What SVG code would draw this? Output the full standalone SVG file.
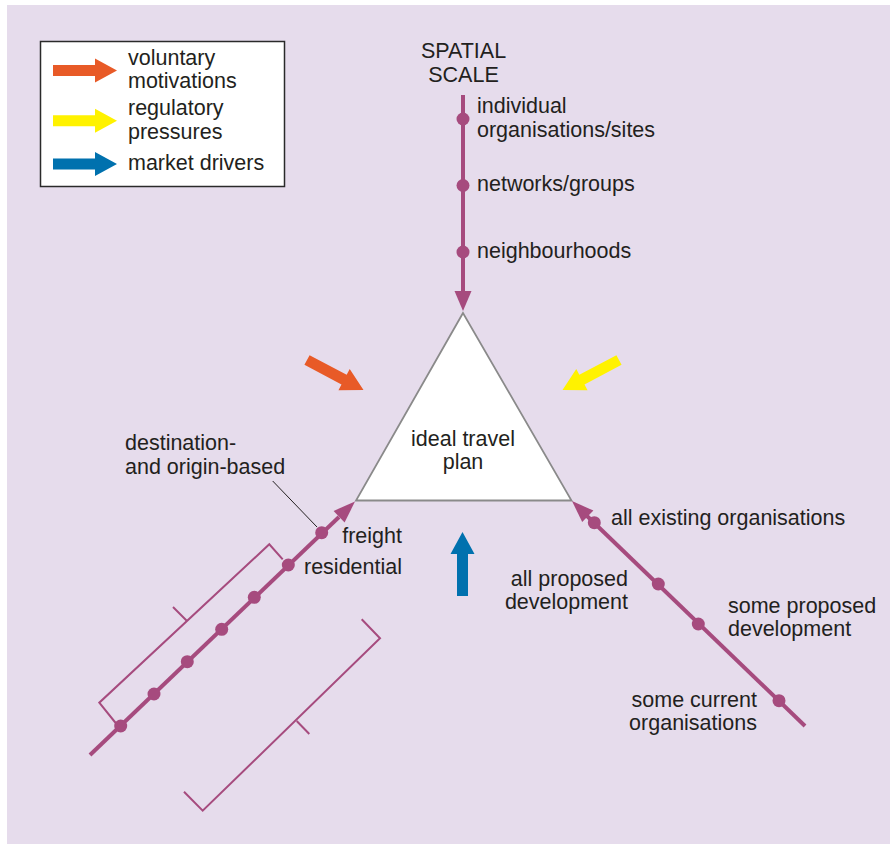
<svg xmlns="http://www.w3.org/2000/svg" xmlns:xlink="http://www.w3.org/1999/xlink" width="890" height="844" viewBox="0 0 890 844">
<style>
text{font-family:"Liberation Sans",Arial,sans-serif;font-size:21.5px;fill:#231f20}
.leg{font-size:21.5px}
.ax{stroke:#a64b7e;stroke-width:4;fill:none}
.br{stroke:#a64b7e;stroke-width:2;fill:none}
.hd{fill:#a64b7e}
.dot{fill:#a64b7e}
.mid{text-anchor:middle}
.end{text-anchor:end}
</style>
<defs>
<path id="bigarrow" d="M0,-5.5 H42 V-12 L64,0 L42,12 V5.5 H0 Z"/>
</defs>
<rect x="0" y="0" width="890" height="844" fill="#ffffff"/>
<rect x="7" y="5" width="883" height="839" fill="#e6dcec"/>

<g id="legend">
<rect x="40.5" y="41.5" width="244" height="145" fill="#ffffff" stroke="#2a2a2a" stroke-width="1.5"/>
<use xlink:href="#bigarrow" transform="translate(53,70.5)" fill="#e85a27"/>
<use xlink:href="#bigarrow" transform="translate(53,120.7)" fill="#fff200"/>
<use xlink:href="#bigarrow" transform="translate(53,164)" fill="#0071ae"/>
<text class="leg" x="128" y="64.5">voluntary</text>
<text class="leg" x="128" y="88">motivations</text>
<text class="leg" x="128" y="114.5">regulatory</text>
<text class="leg" x="128" y="138.5">pressures</text>
<text class="leg" x="128" y="170">market drivers</text>
</g>

<g id="triangle">
<polygon points="463,313 356,500.5 571.5,500.5" fill="#ffffff" stroke="#8a8a8a" stroke-width="1.8"/>
<text class="mid" x="463" y="446">ideal travel</text>
<text class="mid" x="463" y="469">plan</text>
</g>

<g id="connectors">
<line class="ax" x1="463" y1="95" x2="463" y2="293"/>
<polygon class="hd" points="463,311 454.5,291 471.5,291"/>
<line class="ax" x1="587" y1="516" x2="805" y2="726"/>
<polygon class="hd" points="572,501 582.2,522.1 593.4,510.6"/>
<line class="ax" x1="339" y1="517" x2="90" y2="755"/>
<polygon class="hd" points="355,501.5 344.6,522.5 333.6,510.9"/>
<line x1="272.7" y1="481" x2="317" y2="527" stroke="#231f20" stroke-width="1"/>
</g>

<g id="spatial-scale">
<text class="mid" x="463.5" y="58">SPATIAL</text>
<text class="mid" x="463.5" y="81.5">SCALE</text>
<circle class="dot" cx="463" cy="119" r="6.5"/>
<circle class="dot" cx="463" cy="185.5" r="6.5"/>
<circle class="dot" cx="463" cy="252" r="6.5"/>
<text x="477" y="113">individual</text>
<text x="477" y="137">organisations/sites</text>
<text x="477" y="191">networks/groups</text>
<text x="477" y="257.5">neighbourhoods</text>
</g>

<g id="organisation-scale">
<circle class="dot" cx="594.3" cy="522.7" r="6.5"/>
<circle class="dot" cx="658.3" cy="584" r="6.5"/>
<circle class="dot" cx="698.3" cy="624" r="6.5"/>
<circle class="dot" cx="779" cy="700.7" r="6.5"/>
<text x="611" y="525">all existing organisations</text>
<text class="end" x="628" y="586">all proposed</text>
<text class="end" x="628" y="608.5">development</text>
<text x="728" y="613">some proposed</text>
<text x="728" y="636">development</text>
<text class="end" x="757" y="707">some current</text>
<text class="end" x="757" y="729.5">organisations</text>
</g>

<g id="trip-scale">
<circle class="dot" cx="321.7" cy="532.7" r="6.5"/>
<circle class="dot" cx="288.3" cy="565" r="6.5"/>
<circle class="dot" cx="254.3" cy="597.3" r="6.5"/>
<circle class="dot" cx="221.7" cy="629.3" r="6.5"/>
<circle class="dot" cx="187.3" cy="661.7" r="6.5"/>
<circle class="dot" cx="154" cy="694" r="6.5"/>
<circle class="dot" cx="120.7" cy="726" r="6.5"/>
<path class="br" d="M282.7,559.3 L269.3,544.3 L99.3,702.7 L117.3,725"/>
<path class="br" d="M187,621 L173,607"/>
<path class="br" d="M361.7,619.3 L380,638.3 L202.7,810.7 L184,791.7"/>
<path class="br" d="M296.7,721 L309.3,734"/>
<text x="125" y="450">destination-</text>
<text x="125" y="474">and origin-based</text>
<text class="end" x="402" y="543">freight</text>
<text class="end" x="402" y="574">residential</text>
</g>

<g id="drivers">
<use xlink:href="#bigarrow" transform="translate(307,360) rotate(28)" fill="#e85a27"/>
<use xlink:href="#bigarrow" transform="translate(619,360) rotate(152)" fill="#fff200"/>
<use xlink:href="#bigarrow" transform="translate(462.5,596) rotate(-90)" fill="#0071ae"/>
</g>
</svg>
